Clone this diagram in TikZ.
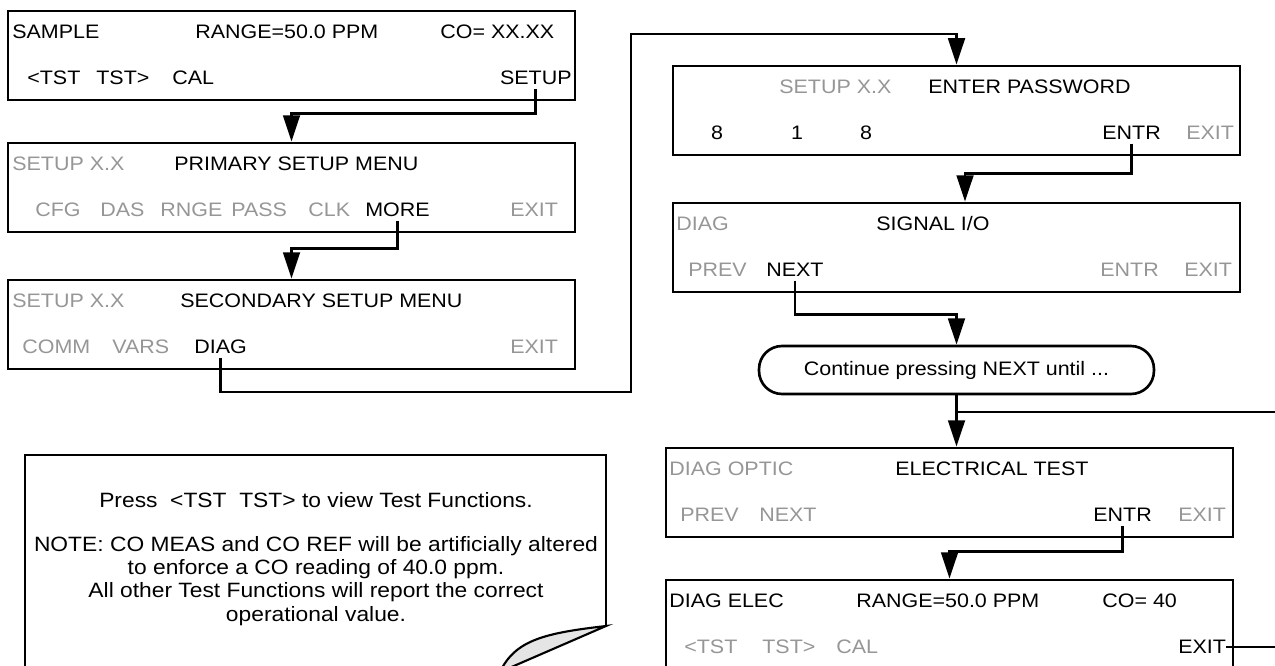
\documentclass[tikz,border=0pt]{standalone}
\usepackage{fontspec}
\setmainfont{Liberation Sans}[FakeStretch=1.1]
\usetikzlibrary{arrows.meta, positioning, calc}
\definecolor{lcdgray}{RGB}{150,150,150}

\begin{document}
\begin{tikzpicture}[
        x=0.02cm, y=-0.02cm,
        font=\fontsize{11.1}{13}\selectfont,
        screen/.style={draw, line width=1.6pt, minimum width=11.34cm, minimum height=1.78cm, inner sep=0pt},
        txt/.style={anchor=west, inner xsep=0pt, inner ysep=2pt},
        dim/.style={txt, text=lcdgray},
        flow/.style={line width=1.6pt, -{Triangle[length=15pt, width=9.5pt]}},
        line/.style={line width=1.6pt},
        paper/.style={line width=1.2pt}
    ]
        \useasboundingbox (0,0) rectangle (1275,666);
        \clip (0,0) rectangle (1275,666);

        % Screens, left column
        \node[screen] (box1) at (291.5,55.5) {};
        \node[txt] (sample) at (12,32) {SAMPLE};
        \node[txt] (range1) at (195,32) {RANGE=50.0 PPM};
        \node[txt] (co1) at (440,32) {CO= XX.XX};
        \node[txt] (tstL1) at (27,78) {<TST};
        \node[txt] (tstR1) at (96,78) {TST>};
        \node[txt] (cal1) at (172,78) {CAL};
        \node[txt, anchor=east] (setupKey) at (572,78) {SETUP};

        \node[screen] (box2) at (291.5,187.5) {};
        \node[dim] (setup2) at (12,164) {SETUP X.X};
        \node[txt] (primary) at (174,164) {PRIMARY SETUP MENU};
        \node[dim] (cfg) at (35,210) {CFG};
        \node[dim] (das) at (100,210) {DAS};
        \node[dim] (rnge) at (160,210) {RNGE};
        \node[dim] (pass) at (231,210) {PASS};
        \node[dim] (clk) at (308,210) {CLK};
        \node[txt] (moreKey) at (365,210) {MORE};
        \node[dim] (exit2) at (510,210) {EXIT};

        \node[screen] (box3) at (291.5,324.5) {};
        \node[dim] (setup3) at (12,301) {SETUP X.X};
        \node[txt] (secondary) at (180,301) {SECONDARY SETUP MENU};
        \node[dim] (comm) at (22,347) {COMM};
        \node[dim] (vars) at (112,347) {VARS};
        \node[txt] (diagKey) at (194,347) {DIAG};
        \node[dim] (exit3) at (510,347) {EXIT};

        % Screens, right column
        \node[screen] (box4) at (956.5,110.5) {};
        \node[dim] (setup4) at (779,87) {SETUP X.X};
        \node[txt] (password) at (928,87) {ENTER PASSWORD};
        \node[txt, anchor=center] (digitA) at (717,133) {8};
        \node[txt, anchor=center] (digitB) at (797,133) {1};
        \node[txt, anchor=center] (digitC) at (866,133) {8};
        \node[txt] (entrKeyA) at (1102,133) {ENTR};
        \node[dim] (exit4) at (1186,133) {EXIT};

        \node[screen] (box5) at (956.5,247.5) {};
        \node[dim] (diag5) at (676,224) {DIAG};
        \node[txt] (signal) at (876,224) {SIGNAL I/O};
        \node[dim] (prev5) at (688,270) {PREV};
        \node[txt] (nextKey) at (766,270) {NEXT};
        \node[dim] (entr5) at (1100,270) {ENTR};
        \node[dim] (exit5) at (1184,270) {EXIT};

        \node[draw, line width=1.5pt, rounded corners=0.46cm, minimum width=7.9cm, minimum height=0.96cm] (cont) at (956.5,370) {Continue pressing NEXT until ...};

        \node[screen] (box6) at (949.5,492.5) {};
        \node[dim] (optic) at (669,469) {DIAG OPTIC};
        \node[txt] (electrical) at (895,469) {ELECTRICAL TEST};
        \node[dim] (prev6) at (680,515) {PREV};
        \node[dim] (next6) at (759,515) {NEXT};
        \node[txt] (entrKeyB) at (1093,515) {ENTR};
        \node[dim] (exit6) at (1178,515) {EXIT};

        \node[screen] (box7) at (949.5,624.5) {};
        \node[txt] (elec) at (669,601) {DIAG ELEC};
        \node[txt] (range7) at (856,601) {RANGE=50.0 PPM};
        \node[txt] (co7) at (1102,601) {CO= 40};
        \node[dim] (tstL7) at (684,647) {<TST};
        \node[dim] (tstR7) at (762,647) {TST>};
        \node[dim] (cal7) at (836,647) {CAL};
        \node[txt] (exitKey) at (1178,647) {EXIT};

        % Note
        \draw[paper] (25,700) -- (25,455) -- (606,455) -- (606,626);
        \draw[paper, fill=gray!20] (606,626) .. controls (545,633) and (515,640) .. (500,672) -- cycle;
        \node[font=\fontsize{11.8}{13}\selectfont] (press) at (316,500) {Press \ <TST \ TST> to view Test Functions.};
        \node[align=center, font=\fontsize{11.8}{13.2}\selectfont] (noteText) at (316,581)
            {NOTE: CO MEAS and CO REF will be artificially altered\\
             to enforce a CO reading of 40.0 ppm.\\
             All other Test Functions will report the correct\\
             operational value.};

        % Lines
        \coordinate (loopLow) at (631,392);
        \coordinate (loopHigh) at (631,34);
        \coordinate (loopIn) at (1275,412);
        \coordinate (exitOut) at (1275,647);

        \draw[flow] (setupKey.south) |- ($(box1.south)+(0,12)$) -| (box2.north);
        \draw[flow] (moreKey.south) |- ($(box2.south)+(0,15)$) -| (box3.north);
        \draw[flow] (diagKey.south) |- (loopLow) -- (loopHigh) -| (box4.north);
        \draw[flow] (entrKeyA.south) |- ($(box4.south)+(8.5,17)$) -| ($(box5.north)+(8.5,0)$);
        \draw[flow] (nextKey.south) |- ($(box5.south)+(0,21)$) -| (cont.north);
        \draw[flow] (cont.south) -- (cont.south |- box6.north);
        \draw[line] (loopIn) -- (loopIn -| cont.south);
        \draw[flow] (entrKeyB.south) |- ($(box6.south)+(0,13)$) -| (box7.north);
        \draw[line] (exitKey.east) -- (exitKey.east -| exitOut);
    \end{tikzpicture}
\end{document}
